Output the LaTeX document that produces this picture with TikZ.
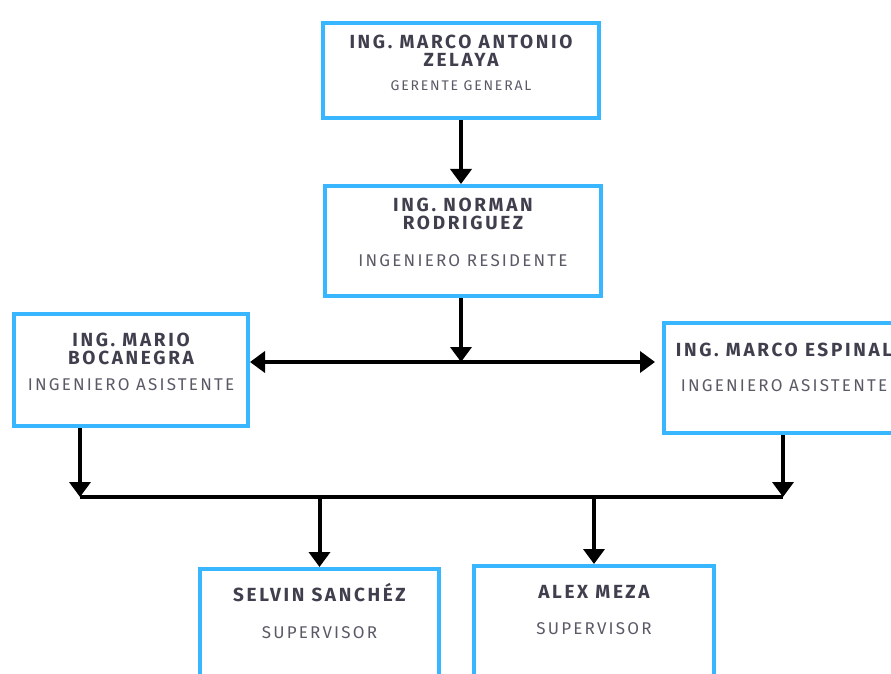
\documentclass[tikz,border=0pt]{standalone}
\usepackage{fontspec}
\setmainfont{Fira Sans}
\newfontfamily\nombrefont[LetterSpace=14]{Fira Sans}
\newfontfamily\cargofont[LetterSpace=13]{Fira Sans}
\usepackage{xcolor}
\usetikzlibrary{arrows.meta,positioning}
\definecolor{celeste}{HTML}{38B6FF}
\definecolor{tinta}{HTML}{3F3F4E}
\definecolor{tintaclara}{HTML}{5A5A66}
\newcommand{\nombre}{\nombrefont\bfseries\fontsize{19}{18}\selectfont\color{tinta}}
\newcommand{\cargo}{\cargofont\mdseries\fontsize{17}{18}\selectfont\color{tintaclara}}
\setlength{\parskip}{0pt}

\begin{document}
\begin{tikzpicture}[
  x=1pt,y=1pt,
  puesto/.style={draw=celeste, line width=4pt, inner sep=0pt, anchor=north},
  ->,>={Triangle[width=21pt,length=15pt]},line width=4pt
]
\useasboundingbox (0,0) rectangle (891,673);

\node[puesto] (gg) at (461,652) {\parbox[t][95pt][t]{276pt}{\centering
  \vspace*{12pt}\nombre ING. MARCO ANTONIO\\ZELAYA\par
  \vspace{6pt}\cargo\fontsize{14}{18}\selectfont GERENTE GENERAL\par}};
\node[puesto] (nr) at (463,489) {\parbox[t][110pt][t]{276pt}{\centering
  \vspace*{12pt}\nombre ING. NORMAN\\RODRIGUEZ\par
  \vspace{19pt}\cargo INGENIERO RESIDENTE\par}};
\node[puesto] (mb) at (131,361) {\parbox[t][112pt][t]{234pt}{\centering
  \vspace*{19pt}\nombre ING. MARIO\\BOCANEGRA\par
  \vspace{8pt}\cargo INGENIERO ASISTENTE\par}};
\node[puesto] (me) at (784,352) {\parbox[t][110pt][t]{240pt}{\centering
  \vspace*{20pt}\nombre ING. MARCO ESPINAL\par
  \vspace{17pt}\cargo INGENIERO ASISTENTE\par}};
\node[puesto] (ss) at (319.5,106) {\parbox[t][120pt][t]{239pt}{\centering
  \vspace*{14pt}\nombre SELVIN SANCHÉZ\par
  \vspace{19pt}\cargo SUPERVISOR\par}};
\node[puesto] (am) at (594,109) {\parbox[t][120pt][t]{240pt}{\centering
  \vspace*{19pt}\nombre ALEX MEZA\par
  \vspace{18pt}\cargo SUPERVISOR\par}};

\coordinate (jA) at (461,311);
\coordinate (bL) at (80,176);
\coordinate (bR) at (783,176);

\draw (gg.south -| jA) -- (nr.north -| jA);
\draw (nr.south -| jA) -- (jA);
\draw (jA) -- (jA -| mb.east);
\draw[shorten >=7pt] (jA) -- (jA -| me.west);
\draw (mb.south -| bL) -- (bL);
\draw (me.south -| bR) -- (bR);
\draw[-] (bL) -- (bR);
\draw (ss.north |- bL) -- (ss.north);
\draw (am.north |- bL) -- (am.north);
\end{tikzpicture}
\end{document}
